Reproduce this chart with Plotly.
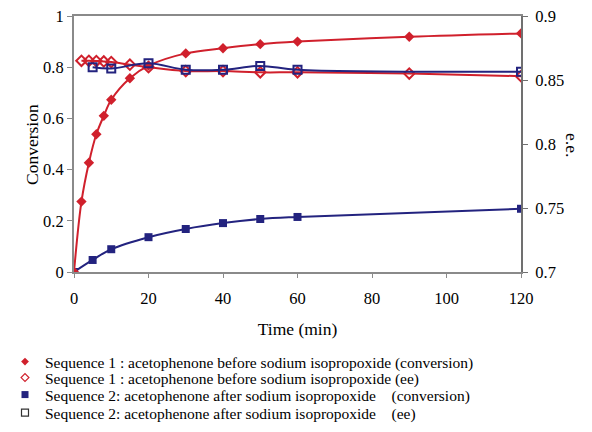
import plotly.graph_objects as go

# Data
t1 = [0, 2, 4, 6, 8, 10, 15, 20, 30, 40, 50, 60, 90, 120]
conv1 = [0, 0.275, 0.427, 0.538, 0.61, 0.673, 0.757, 0.806, 0.854, 0.874, 0.89, 0.90, 0.919, 0.932]
t1_ee = [2, 4, 6, 8, 10, 15, 20, 30, 40, 50, 60, 90, 120]
ee1 = [0.865, 0.865, 0.8648, 0.8645, 0.864, 0.862, 0.860, 0.857, 0.857, 0.856, 0.856, 0.855, 0.853]
t2 = [0, 5, 10, 20, 30, 40, 50, 60, 120]
conv2 = [0, 0.047, 0.089, 0.136, 0.168, 0.191, 0.207, 0.215, 0.247]
t2_ee = [5, 10, 20, 30, 40, 50, 60, 120]
ee2 = [0.860, 0.859, 0.863, 0.858, 0.858, 0.861, 0.858, 0.8565]

names = [
    "Sequence 1 : acetophenone before sodium isopropoxide (conversion)",
    "Sequence 1 : acetophenone before sodium isopropoxide (ee)",
    "Sequence 2: acetophenone after sodium isopropoxide    (conversion)",
    "Sequence 2: acetophenone after sodium isopropoxide    (ee)",
]

RED = "#d0202c"
BLUE = "#23237f"
FONT = "Liberation Serif"
TICKFONT = dict(family=FONT, size=16.5, color="black")

fig = go.Figure()

fig.add_trace(go.Scatter(x=t1_ee, y=ee1, yaxis="y2", mode="lines+markers", showlegend=False,
                         line=dict(color=RED, width=2, shape="spline"),
                         marker=dict(symbol="diamond-open", size=8, color=RED, line=dict(width=2))))
fig.add_trace(go.Scatter(x=t2_ee, y=ee2, yaxis="y2", mode="lines+markers", showlegend=False,
                         line=dict(color=BLUE, width=2, shape="spline"),
                         marker=dict(symbol="square-open", size=8, color=BLUE, line=dict(width=2))))
fig.add_trace(go.Scatter(x=t2, y=conv2, mode="lines+markers", showlegend=False,
                         line=dict(color=BLUE, width=2, shape="spline"),
                         marker=dict(symbol="square", size=8, color=BLUE)))
fig.add_trace(go.Scatter(x=t1, y=conv1, mode="lines+markers", showlegend=False,
                         line=dict(color=RED, width=2, shape="spline"),
                         marker=dict(symbol="diamond", size=8, color=RED)))

# legend entries (markers only), one legend per row
leg = [("diamond", RED, 6, 0), ("diamond-open", RED, 6, 1.2), ("square", BLUE, 7, 0), ("square-open", "#333333", 7, 1.2)]
row_y = [362, 378, 395, 413]
legend_layouts = {}
for i, (nm, (sym, col, sz, lw), ry) in enumerate(zip(names, leg, row_y)):
    key = "legend" if i == 0 else f"legend{i+1}"
    fig.add_trace(go.Scatter(x=[None], y=[None], mode="markers", name=nm, legend=key,
                             marker=dict(symbol=sym, size=sz, color=col, line=dict(width=lw, color=col))))
    legend_layouts[key] = dict(xref="container", yref="container", x=5 / 592, y=1 - ry / 432,
                               xanchor="left", yanchor="middle", bgcolor="rgba(0,0,0,0)",
                               font=dict(family=FONT, size=15.5, color="black"), itemwidth=30)

axis_line = "#8a8a8a"
fig.update_layout(
    width=592, height=432,
    margin=dict(l=74, r=71, t=16, b=160, autoexpand=False),
    paper_bgcolor="white", plot_bgcolor="white",
    font=dict(family=FONT, size=16.5, color="black"),
    xaxis=dict(range=[0, 120], tickvals=[0, 20, 40, 60, 80, 100, 120], showgrid=False, zeroline=False,
               showline=True, linecolor=axis_line, linewidth=2, mirror=True, automargin=False,
               ticks="outside", ticklen=4, tickcolor=axis_line, ticklabelstandoff=6, tickfont=TICKFONT,
               title=dict(text="Time (min)", standoff=16, font=dict(family=FONT, size=17.5))),
    yaxis=dict(range=[0, 1], tickvals=[0, 0.2, 0.4, 0.6, 0.8, 1], ticktext=["0", "0.2", "0.4", "0.6", "0.8", "1"],
               showgrid=False, zeroline=False, automargin=False, tickfont=TICKFONT,
               showline=True, linecolor=axis_line, linewidth=2, ticks="outside", ticklen=5, tickcolor=axis_line),
    yaxis2=dict(range=[0.7, 0.9], tickvals=[0.7, 0.75, 0.8, 0.85, 0.9], overlaying="y", side="right",
                showgrid=False, zeroline=False, showline=True, linecolor="#707070", linewidth=2, automargin=False,
                ticks="outside", ticklen=5, tickcolor="#707070", ticklabelstandoff=4, tickfont=TICKFONT),
    annotations=[
        dict(text="Conversion", xref="paper", yref="paper", x=(20 - 74) / 447, y=(272 - 145) / 256,
             showarrow=False, textangle=-90, font=dict(family=FONT, size=17.5)),
        dict(text="e.e.", xref="paper", yref="paper", x=(584 - 74) / 447, y=(272 - 145) / 256,
             showarrow=False, textangle=90, font=dict(family=FONT, size=17.5)),
    ],
    **legend_layouts,
)

fig.write_html("out.html")
